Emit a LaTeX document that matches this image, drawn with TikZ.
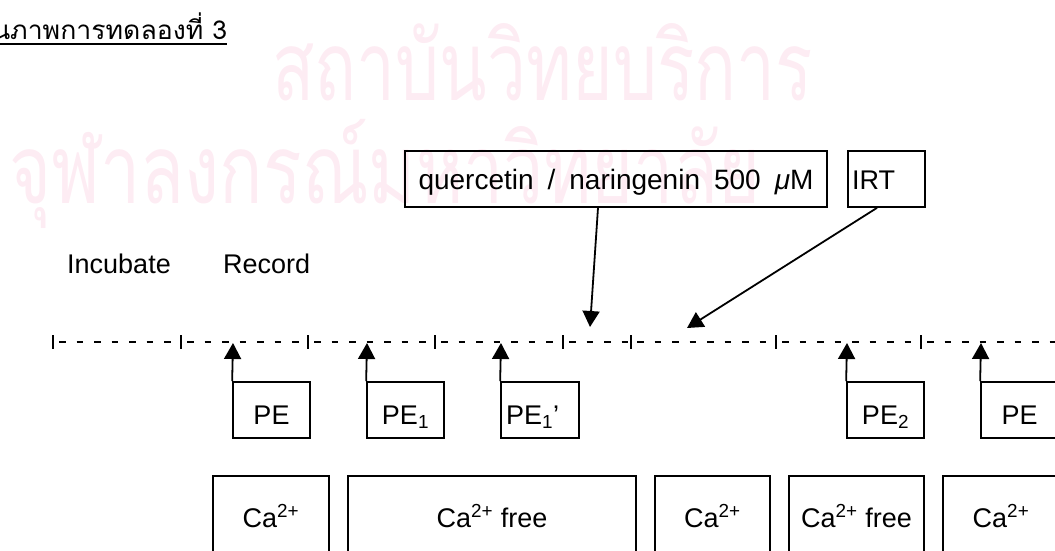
\documentclass[tikz,border=0pt]{standalone}
\usepackage{fontspec}
\usepackage{graphicx}
\setmainfont{Liberation Sans}
\newfontfamily\thaifont[Script=Thai]{Loma}
\usetikzlibrary{arrows.meta}
\definecolor{wmpink}{RGB}{253,236,243}
\newlength\wmA \newlength\wmB \newlength\ttlA \newlength\ttlB
\settowidth\wmA{\thaifont\fontsize{96}{100}\selectfont สถาบันวิทยบริการ}
\settowidth\wmB{\thaifont\fontsize{96}{100}\selectfont จุฬาลงกรณ์มหาวิทยาลัย}
\settowidth\ttlA{\thaifont\fontsize{26}{30}\selectfont ภาพการทดลองที่ 3}
\settowidth\ttlB{\thaifont\fontsize{26}{30}\selectfont แผน}
\begin{document}
\begin{tikzpicture}[x=1pt,y=-1pt,
  lat/.style={font=\fontsize{27}{32}\selectfont},
  box/.style={draw, line width=1.7pt, inner sep=0pt, lat},
  topbox/.style={box, minimum height=56pt, text height=20pt, text depth=0pt},
  pebox/.style={box, minimum height=56pt, text height=28pt, text depth=0pt},
  cabox/.style={box, minimum height=82pt, text height=20pt, text depth=0pt},
  arr/.style={line width=1.8pt, -{Triangle[length=16pt,width=17pt]}},
  tickmark/.style={line width=2pt},
  dashline/.style={line width=2pt, dash pattern=on 6.5pt off 11pt, dash phase=11.5pt},
  wm/.style={text=wmpink, inner sep=0pt, anchor=base west},
  lbl/.style={lat, inner sep=0pt, anchor=base west}]
\useasboundingbox (0,0) rectangle (1055,550);
\clip (0,0) rectangle (1055,550);
\pgfmathsetmacro\sxA{541/\wmA}
\pgfmathsetmacro\sxB{751/\wmB}
\pgfmathsetmacro\sxT{217/\ttlA}
\pgfmathsetmacro\tx{10-\sxT*\ttlB}
% watermark
\node[wm] (wm1) at (272,100) {\scalebox{\sxA}[1]{\thaifont\fontsize{96}{100}\selectfont สถาบันวิทยบริการ}};
\node[wm] (wm2) at (9,203) {\scalebox{\sxB}[1]{\thaifont\fontsize{96}{100}\selectfont จุฬาลงกรณ์มหาวิทยาลัย}};
% title
\node[inner sep=0pt, anchor=base west] (title) at (\tx,39) {\scalebox{\sxT}[1]{\thaifont\fontsize{26}{30}\selectfont แผนภาพการทดลองที่ 3}};
\draw[line width=1.8pt] ([yshift=-5pt]title.base west) -- ([yshift=-5pt]title.base east);
% labels
\node[lbl] (inc) at (67,273) {Incubate};
\node[lbl] (rec) at (223,273) {Record};
% top boxes
\node[topbox, minimum width=422pt] (q) at (616,179) {\fontsize{28}{32}\selectfont\makebox[395pt][s]{quercetin / naringenin 500 \textit{μ}M}};
\node[topbox, minimum width=77pt, text width=69pt, align=left] (irt) at (886.5,179) {IRT};
% time line
\coordinate (t1) at (53,342);
\coordinate (t2) at (181,342);
\coordinate (t3) at (308,342);
\coordinate (t4) at (435,342);
\coordinate (t5) at (563,342);
\coordinate (t6) at (631,342);
\coordinate (t7) at (776,342);
\coordinate (t8) at (921,342);
\coordinate (t9) at (1070,342);
\foreach \a/\b in {t1/t2,t2/t3,t3/t4,t4/t5,t5/t6,t6/t7,t7/t8,t8/t9}
  \draw[dashline] (\a) -- (\b);
\foreach \t in {t1,t2,t3,t4,t5,t6,t7,t8}
  \draw[tickmark] ([yshift=7pt]\t) -- ([yshift=-7pt]\t);
% arrows from top boxes
\coordinate (a1) at (590,327);
\coordinate (a2) at (687,328);
\draw[arr] ([xshift=-18pt]q.south) -- (a1);
\draw[arr] ([xshift=-9.5pt]irt.south) -- (a2);
% PE boxes
\node[pebox, minimum width=77pt] (pe1) at (271.5,410) {PE};
\node[pebox, minimum width=77pt] (pe2) at (405.5,410) {PE\textsubscript{1}};
\node[pebox, minimum width=78pt, text width=68pt, align=left] (pe3) at (540,410) {PE\textsubscript{1}’};
\node[pebox, minimum width=77pt] (pe4) at (885.5,410) {PE\textsubscript{2}};
\node[pebox, minimum width=77pt] (pe5) at (1019.5,410) {PE};
\coordinate (r1) at (233,343);
\coordinate (r2) at (367,343);
\coordinate (r3) at (501,343);
\coordinate (r4) at (847,343);
\coordinate (r5) at (981,343);
\draw[arr] (pe1.north west) -- (r1);
\draw[arr] (pe2.north west) -- (r2);
\draw[arr] (pe3.north west) -- (r3);
\draw[arr] (pe4.north west) -- (r4);
\draw[arr] (pe5.north west) -- (r5);
% Ca boxes
\node[cabox, minimum width=116pt] (ca1) at (271,517) {Ca\textsuperscript{2+}};
\node[cabox, minimum width=288pt] (ca2) at (492,517) {Ca\textsuperscript{2+} free};
\node[cabox, minimum width=115pt] (ca3) at (712.5,517) {Ca\textsuperscript{2+}};
\node[cabox, minimum width=135pt] (ca4) at (856.5,517) {Ca\textsuperscript{2+} free};
\node[cabox, minimum width=116pt] (ca5) at (1001,517) {Ca\textsuperscript{2+}};
\end{tikzpicture}
\end{document}
